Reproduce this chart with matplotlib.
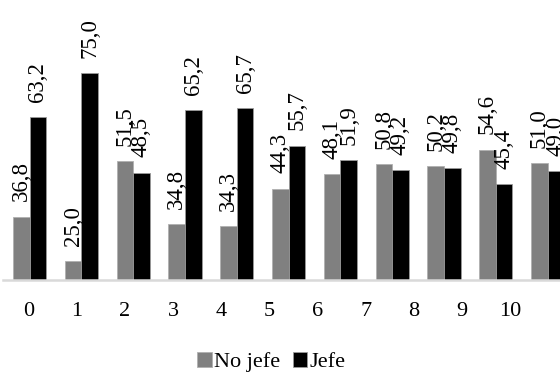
import numpy as np
import matplotlib
matplotlib.use("Agg")
import matplotlib.pyplot as plt

plt.rcParams['font.family'] = ['Liberation Serif', 'DejaVu Serif']

categories = ["0", "1", "2", "3", "4", "5", "6", "7", "8", "9", "10"]
no_jefe = [36.8, 25.0, 51.5, 34.8, 34.3, 44.3, 48.1, 50.8, 50.2, 54.6, 51.0]
jefe = [63.2, 75.0, 48.5, 65.2, 65.7, 55.7, 51.9, 49.2, 49.8, 45.4, 49.0]

fig = plt.figure(figsize=(5.6, 3.73), dpi=100)
ax = fig.add_axes([3 / 560, 0.2493, 1 - 3 / 560, 0.855 - 0.2493])

x = np.arange(len(categories))
w = 0.32
b1 = ax.bar(x - w / 2, no_jefe, w, bottom=0, color="#808080", edgecolor="#b0b0b0",
            linewidth=0.6, label="No jefe")
b2 = ax.bar(x + w / 2, jefe, w, bottom=0, color="#000000", edgecolor="#9a9a9a",
            linewidth=0.6, label="Jefe")

# value labels, decimal comma
for bars, vals in [(b1, no_jefe), (b2, jefe)]:
    for r, v in zip(bars, vals):
        ax.annotate(f"{v:.1f}".replace(".", ","),
                    (r.get_x() + r.get_width() / 2, v),
                    xytext=(0, 11), textcoords="offset points",
                    rotation=90, ha="center", va="bottom",
                    fontsize=16.5, annotation_clip=False)

ax.set_ylim(20, 80)
ax.set_xlim(-0.512, 10.24)

# category labels sit slightly tighter than the bar groups in the reference
ax.set_xticks(x * 0.9305 - 0.023, categories)
ax.tick_params(axis="x", length=0, pad=16, labelsize=16)
ax.set_yticks([])

for s in ["top", "right", "left"]:
    ax.spines[s].set_visible(False)
ax.spines["bottom"].set_color("#d9d9d9")
ax.spines["bottom"].set_linewidth(1.8)

fig.legend(loc="center", bbox_to_anchor=(0.485, 0.03), ncol=2, frameon=False,
           fontsize=16, handlelength=0.65, handleheight=0.65,
           handletextpad=0.12, columnspacing=0.55)

fig.savefig("out.png", dpi=100)
